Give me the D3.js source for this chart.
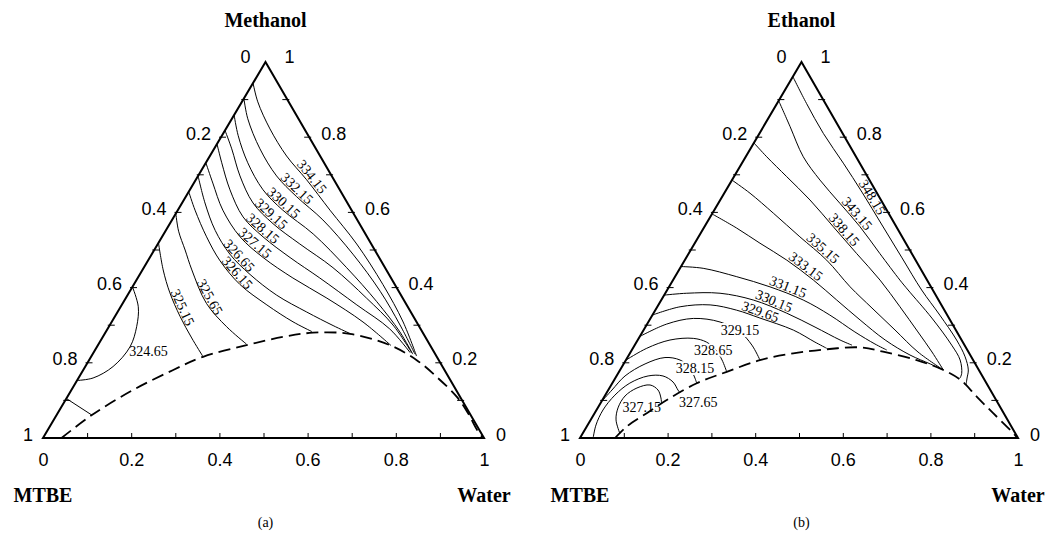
<!DOCTYPE html>
<html>
<head>
<meta charset="utf-8">
<script src="https://cdn.jsdelivr.net/npm/d3@7"></script>
<style>
body { margin: 0; background: #fff; }
svg { display: block; }
.edge { fill: none; stroke: #000; stroke-width: 2; stroke-linejoin: miter; }
.iso { fill: none; stroke: #000; stroke-width: 1; }
.binodal { fill: none; stroke: #000; stroke-width: 1.8; stroke-dasharray: 12,6; }
.tk line, line.tk { stroke: #000; stroke-width: 1; }
.tlab { font-family: "Liberation Sans", Arial, sans-serif; font-size: 18px; fill: #000; }
.title { font-family: "Liberation Serif", "Times New Roman", serif; font-weight: bold; font-size: 20px; }
.cap { font-family: "Liberation Serif", "Times New Roman", serif; font-size: 14px; }
.clab { font-family: "Liberation Serif", "Times New Roman", serif; font-size: 14px; }
.halo { stroke: #fff; stroke-width: 4; paint-order: stroke; }
</style>
</head>
<body>
<svg width="1047" height="533"></svg>
<script>
// composition points are [water, alcohol]; MTBE = 1 - water - alcohol
const tickVals = [0.1, 0.2, 0.3, 0.4, 0.5, 0.6, 0.7, 0.8, 0.9]
const labelVals = [0, 0.2, 0.4, 0.6, 0.8, 1]
const tickLabels = ['0', '0.2', '0.4', '0.6', '0.8', '1']

// (a) MTBE - Methanol - Water
const methanolBinodal = [[0.042,0],[0.080,0.061],[0.140,0.128],[0.204,0.181],[0.254,0.216],[0.337,0.247],
	[0.409,0.269],[0.471,0.280],[0.556,0.277],[0.662,0.247],[0.743,0.207],[0.810,0.163],[0.8825,0.110],
	[0.930,0.0665],[0.975,0.02],[0.998,0]]

const methanolLines = [
	['334.15', [[0,0.944],[0.036,0.894],[0.100,0.822],[0.174,0.750],[0.251,0.687],[0.345,0.606],[0.451,0.516],[0.565,0.408],[0.661,0.3085],[0.737,0.218]]],
	['332.15', [[0,0.903],[0.036,0.849],[0.104,0.769],[0.178,0.697],[0.251,0.642],[0.342,0.580],[0.456,0.489],[0.568,0.390],[0.658,0.3005],[0.731,0.223]]],
	['330.15', [[0,0.859],[0.037,0.804],[0.095,0.732],[0.166,0.660],[0.238,0.606],[0.339,0.5426],[0.460,0.453],[0.574,0.3625],[0.667,0.282],[0.726,0.223]]],
	['329.15', [[0,0.818],[0.040,0.769],[0.095,0.697],[0.161,0.625],[0.234,0.570],[0.322,0.516],[0.429,0.453],[0.546,0.372],[0.642,0.3005],[0.7215,0.227]]],
	['328.15', [[0,0.782],[0.036,0.732],[0.091,0.660],[0.157,0.588],[0.229,0.535],[0.318,0.480],[0.413,0.4255],[0.533,0.354],[0.640,0.290],[0.718,0.227]]],
	['327.15', [[0,0.732],[0.043,0.678],[0.102,0.606],[0.177,0.535],[0.257,0.480],[0.352,0.4255],[0.456,0.372],[0.570,0.3085],[0.665,0.246]]],
	['326.65', [[0,0.697],[0.052,0.625],[0.112,0.552],[0.177,0.489],[0.250,0.435],[0.338,0.380],[0.429,0.335],[0.507,0.299],[0.558,0.277]]],
	['326.15', [[0,0.655],[0.039,0.606],[0.101,0.535],[0.164,0.471],[0.241,0.408],[0.329,0.354],[0.411,0.309],[0.467,0.283]]],
	['325.65', [[0,0.597],[0.03,0.55],[0.07,0.50],[0.112,0.447],[0.190,0.358],[0.267,0.296],[0.335,0.250]]],
	['325.15', [[0,0.519],[0.047,0.447],[0.093,0.386],[0.148,0.323],[0.203,0.266],[0.252,0.218]]],
	['324.65', [[0,0.402],[0.040,0.349],[0.063,0.296],[0.075,0.243],[0.063,0.190],[0.033,0.1596],[0,0.153]]],
	['', [[0,0.105],[0.080,0.061]]],
]
const methanolLabelAt = [[0.255,0.686],[0.238,0.652],[0.227,0.614],[0.214,0.585],[0.215,0.545],[0.216,0.508],
	[0.196,0.475],[0.214,0.43],[0.18,0.367],[0.133,0.34],[0.123,0.23],null]
const methanolFlat = ['324.65']
const methanolHalo = []

// (b) MTBE - Ethanol - Water
const ethanolBinodal = [[0.08,0],[0.091,0.030],[0.119,0.066],[0.147,0.101],[0.193,0.1455],[0.246,0.176],
	[0.306,0.207],[0.373,0.225],[0.444,0.236],[0.517,0.241],[0.576,0.2295],[0.664,0.207],[0.738,0.181],
	[0.7886,0.156],[0.81,0.141],[0.850,0.110],[0.910,0.066],[0.983,0.0125],[0.998,0]]

const ethanolLines = [
	['348.15', [[0,0.961],[0.067,0.890],[0.146,0.810],[0.2315,0.731],[0.313,0.654],[0.403,0.5665],[0.493,0.479],[0.581,0.3936],[0.656,0.327],[0.728,0.2606],[0.770,0.216],[0.795,0.181],[0.803,0.1596],[0.81,0.141]]],
	['343.15', [[0,0.897],[0.061,0.828],[0.1315,0.748],[0.201,0.686],[0.278,0.624],[0.355,0.562],[0.436,0.491],[0.518,0.420],[0.55,0.3936],[0.642,0.319],[0.7237,0.247],[0.763,0.2074],[0.7845,0.172],[0.787,0.1596]]],
	['338.15', [[0,0.785],[0.048,0.748],[0.1205,0.695],[0.205,0.633],[0.294,0.562],[0.383,0.491],[0.4726,0.420],[0.554,0.349],[0.629,0.282],[0.688,0.2287],[0.738,0.181]]],
	['335.15', [[0,0.686],[0.059,0.651],[0.139,0.598],[0.2315,0.535],[0.324,0.473],[0.4135,0.402],[0.4918,0.3457],[0.574,0.2872],[0.656,0.2287],[0.738,0.181]]],
	['333.15', [[0,0.596],[0.075,0.5585],[0.149,0.518],[0.233,0.473],[0.3205,0.420],[0.4005,0.367],[0.4806,0.314],[0.565,0.2606],[0.6418,0.2207],[0.700,0.197],[0.738,0.181]]],
	['331.15', [[0,0.456],[0.053,0.4513],[0.141,0.429],[0.2304,0.402],[0.324,0.367],[0.405,0.327],[0.485,0.282],[0.547,0.25],[0.582,0.234]]],
	['330.15', [[0,0.38],[0.049,0.385],[0.125,0.385],[0.21,0.367],[0.304,0.332],[0.3874,0.295],[0.462,0.2606],[0.496,0.247]]],
	['329.65', [[0,0.327],[0.052,0.349],[0.118,0.354],[0.1856,0.340],[0.2495,0.319],[0.342,0.287],[0.4075,0.255],[0.4425,0.2386]]],
	['329.15', [[0,0.27],[0.0447,0.303],[0.098,0.318],[0.1637,0.3085],[0.2226,0.282],[0.2676,0.247],[0.306,0.2074]]],
	['328.65', [[0,0.207],[0.0317,0.2386],[0.0737,0.2606],[0.1246,0.265],[0.160,0.255],[0.192,0.234],[0.2194,0.2074],[0.246,0.176]]],
	['328.15', [[0,0.0965],[0.0085,0.1277],[0.0194,0.165],[0.0489,0.197],[0.0858,0.214],[0.1235,0.2074],[0.1534,0.189],[0.177,0.165],[0.193,0.1455]]],
	['327.65', [[0.030,0],[0.019,0.0346],[0.0148,0.0745],[0.022,0.114],[0.040,0.146],[0.072,0.165],[0.106,0.165],[0.137,0.149],[0.159,0.1277],[0.167,0.1207]]],
	['327.15', [[0.085,0.012],[0.058,0.048],[0.0463,0.08],[0.0463,0.1117],[0.0628,0.133],[0.0886,0.141],[0.1135,0.1277],[0.131,0.1064],[0.139,0.093]]],
]
const ethanolLabelAt = [[0.338,0.633],[0.326,0.5886],[0.318,0.544],[0.299,0.5],[0.284,0.447],[0.273,0.394],
	[0.26,0.358],[0.243,0.332],[0.22,0.287],[0.186,0.234],[0.169,0.185],[0.221,0.0965],[0.099,0.083]]
const ethanolFlat = ['329.15', '328.65', '328.15', '327.65', '327.15']
const ethanolHalo = ['329.15', '328.65', '328.15']

const svg = d3.select('svg')

function drawPanel(o) {
	const g = svg.append('g')
	// ternary projection built from linear scales
	const xw = d3.scaleLinear().domain([0, 1]).range([o.M[0], o.W[0]])
	const xa = d3.scaleLinear().domain([0, 1]).range([0, o.T[0] - o.M[0]])
	const ya = d3.scaleLinear().domain([0, 1]).range([o.M[1], o.T[1]])
	const P = (d) => [xw(d[0]) + xa(d[1]), ya(d[1])]
	const line = d3.line().curve(d3.curveCatmullRom.alpha(0.5))

	// Isotherms
	const labels = []
	o.lines.forEach(([lab, pts], i) => {
		const path = g.append('path').attr('class', 'iso').attr('d', line(pts.map(P)))
		const at = o.labelAt[i]
		if (!lab || !at) return
		const [ax, ay] = P(at)
		if (o.flat.includes(lab)) {
			labels.push({ lab, x: ax, y: ay, angle: 0, flat: true, halo: o.halo.includes(lab) })
			return
		}
		// find the nearest spot on the curve, rotate with the tangent
		const node = path.node()
		const len = node.getTotalLength()
		let best = 0, bestD = Infinity
		for (let s = 0; s <= len; s += 0.5) {
			const p = node.getPointAtLength(s)
			const dd = (p.x - ax) ** 2 + (p.y - ay) ** 2
			if (dd < bestD) { bestD = dd; best = s }
		}
		const p = node.getPointAtLength(best)
		const p0 = node.getPointAtLength(Math.max(0, best - 5))
		const p1 = node.getPointAtLength(Math.min(len, best + 5))
		let angle = Math.atan2(p1.y - p0.y, p1.x - p0.x) * 180 / Math.PI
		if (angle > 90) angle -= 180
		if (angle < -90) angle += 180
		labels.push({ lab, x: p.x, y: p.y, angle, flat: false })
	})

	// Binodal curve
	g.append('path').attr('class', 'binodal').attr('d', line(o.binodal.map(P)))

	// Triangle
	g.append('path').attr('class', 'edge')
		.attr('d', d3.line()([[0, 0], [1, 0], [0, 1]].map(P)) + 'Z')

	// Bottom axis (water)
	const bt = g.append('g').attr('class', 'tk').attr('transform', `translate(0,${o.M[1]})`)
		.call(d3.axisBottom(xw).tickValues(tickVals).tickSizeInner(-5).tickSizeOuter(0).tickFormat(''))
	bt.select('.domain').remove()
	const bl = g.append('g').attr('transform', `translate(0,${o.M[1]})`)
		.call(d3.axisBottom(xw).tickValues(labelVals).tickSize(0).tickPadding(15)
			.tickFormat((d, i) => tickLabels[i]))
	bl.select('.domain').remove()
	bl.selectAll('text').attr('class', 'tlab')

	// Side ticks
	tickVals.forEach((t) => {
		const [lx, ly] = P([0, 1 - t])
		g.append('line').attr('class', 'tk').attr('x1', lx - 2).attr('x2', lx + 5).attr('y1', ly).attr('y2', ly)
		const [rx, ry] = P([1 - t, t])
		g.append('line').attr('class', 'tk').attr('x1', rx + 2).attr('x2', rx - 5).attr('y1', ry).attr('y2', ry)
	})
	// Side labels: left = MTBE, right = alcohol
	labelVals.forEach((v, i) => {
		const [lx, ly] = P([0, 1 - v])
		const apexL = v === 0
		g.append('text').attr('class', 'tlab').attr('text-anchor', 'end')
			.attr('x', lx - (apexL ? 15 : 10)).attr('y', ly + (apexL ? 0.5 : 2.5)).text(tickLabels[i])
		const [rx, ry] = P([1 - v, v])
		const apexR = v === 1
		g.append('text').attr('class', 'tlab').attr('text-anchor', 'start')
			.attr('x', rx + (apexR ? 19 : 12)).attr('y', ry + (apexR ? 0.5 : 2.5)).text(tickLabels[i])
	})

	// Isotherm labels
	labels.forEach((d) => {
		g.append('text').attr('class', 'clab' + (d.halo ? ' halo' : ''))
			.attr('text-anchor', 'middle')
			.attr('transform', `translate(${d.x},${d.y}) rotate(${d.angle})`)
			.attr('dy', d.flat ? '0.35em' : '-1.5')
			.text(d.lab)
	})

	// Titles
	const [tx, ty] = P([0, 1])
	const [mx, my] = P([0, 0])
	const [wx, wy] = P([1, 0])
	g.append('text').attr('class', 'title').attr('text-anchor', 'middle').attr('x', tx).attr('y', 27).text(o.top)
	g.append('text').attr('class', 'title').attr('text-anchor', 'middle').attr('x', mx).attr('y', 502).text('MTBE')
	g.append('text').attr('class', 'title').attr('text-anchor', 'middle').attr('x', wx).attr('y', 502).text('Water')
	g.append('text').attr('class', 'cap').attr('text-anchor', 'middle').attr('x', tx).attr('y', 527).text(o.caption)
}

drawPanel({
	M: [43, 438], W: [484, 438], T: [265.5, 62],
	top: 'Methanol', caption: '(a)',
	binodal: methanolBinodal, lines: methanolLines, labelAt: methanolLabelAt,
	flat: methanolFlat, halo: methanolHalo,
})
drawPanel({
	M: [580, 438], W: [1018, 438], T: [801.5, 62],
	top: 'Ethanol', caption: '(b)',
	binodal: ethanolBinodal, lines: ethanolLines, labelAt: ethanolLabelAt,
	flat: ethanolFlat, halo: ethanolHalo,
})
</script>
</body>
</html>
